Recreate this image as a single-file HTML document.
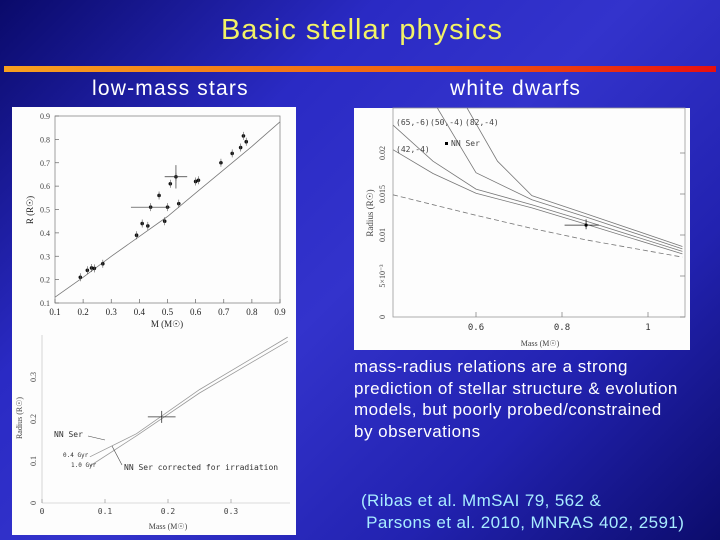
<!DOCTYPE html>
<html><head><meta charset="utf-8"><style>
html,body{margin:0;padding:0}
body{width:720px;height:540px;overflow:hidden;position:relative;font-family:"Liberation Sans","DejaVu Sans",sans-serif;
background:linear-gradient(135deg,#0a0a6a 0%,#2a2ac4 30%,#3333cc 50%,#2222b0 75%,#0c0c6c 100%)}
.t{position:absolute;white-space:nowrap}
</style></head><body>
<div class="t" style="left:0;width:724px;text-align:center;top:14px;font-size:29px;letter-spacing:1px;color:#f2f266">Basic stellar physics</div>
<div style="position:absolute;left:4px;top:66px;width:712px;height:6px;background:linear-gradient(90deg,#f8a020,#f06010 60%,#e81010)"></div>
<div class="t" style="left:92px;top:77px;font-size:21px;letter-spacing:1.2px;color:#fff">low-mass stars</div>
<div class="t" style="left:450px;top:77px;font-size:21px;letter-spacing:1.2px;color:#fff">white dwarfs</div>
<div class="t" style="left:354px;top:356px;font-size:17px;letter-spacing:0.5px;line-height:21.5px;color:#fff">mass-radius relations are a strong<br>prediction of stellar structure &amp; evolution<br>models, but poorly probed/constrained<br>by observations</div>
<div class="t" style="left:361px;top:490px;font-size:17px;letter-spacing:0.4px;line-height:21.5px;color:#a8ecff">(Ribas et al. MmSAI 79, 562 &amp;<br>&nbsp;Parsons et al. 2010, MNRAS 402, 2591)</div>
<svg id="s" width="720" height="540" style="position:absolute;left:0;top:0" font-family="Liberation Serif, serif"></svg>
<script>
// Low-mass stars
const lmM=[0.19,0.215,0.23,0.24,0.27,0.39,0.41,0.43,0.44,0.47,0.49,0.5,0.51,0.53,0.54,0.6,0.61,0.69,0.73,0.76,0.77,0.78];
const lmR=[0.21,0.24,0.25,0.248,0.268,0.39,0.44,0.43,0.51,0.56,0.45,0.51,0.61,0.64,0.525,0.62,0.625,0.70,0.74,0.765,0.815,0.79];
const lmModelM=[0.1,0.2,0.3,0.4,0.5,0.6,0.7,0.8,0.9];
const lmModelR=[0.125,0.21,0.3,0.385,0.47,0.57,0.67,0.77,0.875];
const lmTicks=[0.1,0.2,0.3,0.4,0.5,0.6,0.7,0.8,0.9];
// White dwarfs
const wdM=[0.407,0.5,0.6,0.73,0.856,1.08];
const wdDashed=[0.0149,0.0137,0.0124,0.0108,0.0094,0.0073];
const wdC42=[0.0204,0.0175,0.0151,0.0133,0.0113,0.0077];
const wdC65=[0.0234,0.0190,0.0156,0.0137,0.0117,0.0080];
const wdC50M=[0.51,0.6,0.73,0.856,1.08];const wdC50=[0.0255,0.0176,0.0143,0.0122,0.0083];
const wdC82M=[0.579,0.65,0.73,0.856,1.08];const wdC82=[0.0255,0.0190,0.0148,0.0126,0.0086];
const wdObs=[0.856,0.0112];
const wdXTicks=[0.6,0.8,1];const wdYTicks=[0,0.005,0.01,0.015,0.02];
const wdYLabels=["0","5×10⁻³","0.01","0.015","0.02"];
// NN Ser M dwarf
const mdM=[0.076,0.15,0.25,0.39];const md04=[0.11,0.165,0.27,0.395];const md1=[0.088,0.16,0.262,0.385];
const mdObs=[0.19,0.205];const mdTicksX=[0,0.1,0.2,0.3];const mdTicksY=[0,0.1,0.2,0.3];

const s=document.getElementById('s');const NS='http://www.w3.org/2000/svg';
function el(t,a,txt){const e=document.createElementNS(NS,t);for(const k in a)e.setAttribute(k,a[k]);if(txt!==undefined)e.textContent=txt;s.appendChild(e);return e;}
function lin(d0,d1,p0,p1){return v=>p0+(v-d0)/(d1-d0)*(p1-p0);}
function poly(xs,ys,fx,fy){return xs.map((v,i)=>fx(v).toFixed(1)+','+fy(ys[i]).toFixed(1)).join(' ');}

let p=el('rect',{x:12,y:107,width:284,height:428,fill:'#fdfdfd'});


p=el('rect',{x:354,y:108,width:336,height:242,fill:'#fdfdfd'});



// chart 1
let x1=lin(0.1,0.9,55,280),y1=lin(0.1,0.9,303,116);
el('rect',{x:55,y:116,width:225,height:187,fill:'none',stroke:'#888','stroke-width':0.8});
lmTicks.forEach(t=>{
 let a=el('text',{x:x1(t),y:315,'font-size':9,'text-anchor':'middle',fill:'#222'},String(t));
 
 
 a=el('text',{x:50,y:y1(t)+3,'font-size':8,'text-anchor':'end',fill:'#444'},String(t));
 
 
 el('line',{x1:x1(t),x2:x1(t),y1:303,y2:299,stroke:'#666','stroke-width':0.7});
 el('line',{x1:55,x2:59,y1:y1(t),y2:y1(t),stroke:'#666','stroke-width':0.7});
});
let t1=el('text',{x:167,y:327,'font-size':9,'text-anchor':'middle',fill:'#222'},'M (M☉)');


t1=el('text',{x:0,y:0,'font-size':9,'text-anchor':'middle',fill:'#222',transform:'translate(33,210) rotate(-90)'},'R (R☉)');


t1=el('polyline',{points:poly(lmModelM,lmModelR,x1,y1),fill:'none',stroke:'#777','stroke-width':0.8});


lmM.forEach((m,i)=>{
 const c=el('circle',{cx:x1(m),cy:y1(lmR[i]),r:1.8,fill:'#111'});
 
 
 el('line',{x1:x1(m),x2:x1(m),y1:y1(lmR[i])-4,y2:y1(lmR[i])+4,stroke:'#555','stroke-width':0.6});
});
el('line',{x1:x1(0.37),x2:x1(0.51),y1:y1(0.51),y2:y1(0.51),stroke:'#333','stroke-width':0.7});
el('line',{x1:x1(0.49),x2:x1(0.57),y1:y1(0.64),y2:y1(0.64),stroke:'#333','stroke-width':0.7});
el('line',{x1:x1(0.53),x2:x1(0.53),y1:y1(0.69),y2:y1(0.59),stroke:'#333','stroke-width':0.7});

// chart 2
let x2=lin(0.6,1.0,476,648),y2=lin(0,0.02,317,153);
el('rect',{x:393,y:108,width:292,height:209,fill:'none',stroke:'#999','stroke-width':0.8});
wdXTicks.forEach(t=>{const a=el('text',{x:x2(t),y:330,'font-size':9,'text-anchor':'middle',fill:'#333','font-family':'DejaVu Sans Mono, monospace'},String(t));
 
 
 el('line',{x1:x2(t),x2:x2(t),y1:317,y2:312,stroke:'#777','stroke-width':0.7});});
wdYTicks.forEach((t,i)=>{const a=el('text',{x:0,y:0,'font-size':8,'text-anchor':'middle',fill:'#444',transform:`translate(385,${y2(t)}) rotate(-90)`},wdYLabels[i]);
 
 
 el('line',{x1:680,x2:685,y1:y2(t),y2:y2(t),stroke:'#777','stroke-width':0.7});});
t1=el('text',{x:540,y:346,'font-size':8,'text-anchor':'middle',fill:'#444'},'Mass (M☉)');


t1=el('text',{x:0,y:0,'font-size':9,'text-anchor':'middle',fill:'#444',transform:'translate(373,213) rotate(-90)'},'Radius (R☉)');


s.appendChild(Object.assign(document.createElementNS(NS,'clipPath'),{id:'c2'}));
document.getElementById('c2').innerHTML='<rect x="393" y="108" width="292" height="209"/>';
[[wdM,wdC42],[wdM,wdC65],[wdC50M,wdC50],[wdC82M,wdC82]].forEach(([xs,ys])=>{
 const l=el('polyline',{points:poly(xs,ys,x2,y2),fill:'none',stroke:'#777','stroke-width':0.8,'clip-path':'url(#c2)'});
 
 
});
t1=el('polyline',{points:poly(wdM,wdDashed,x2,y2),fill:'none',stroke:'#777','stroke-width':0.8,'stroke-dasharray':'5,3'});


el('line',{x1:x2(wdObs[0]-0.05),x2:x2(wdObs[0]+0.03),y1:y2(wdObs[1]),y2:y2(wdObs[1]),stroke:'#222','stroke-width':0.8});
el('line',{x1:x2(wdObs[0]),x2:x2(wdObs[0]),y1:y2(wdObs[1]+0.0007),y2:y2(wdObs[1]-0.0005),stroke:'#222','stroke-width':0.8});
t1=el('circle',{cx:x2(wdObs[0]),cy:y2(wdObs[1]),r:1.6,fill:'#000'});


el('rect',{x:445,y:142,width:3,height:3,fill:'#000'});
[['(65,-6)',396,125],['(50,-4)',430,125],['(82,-4)',465,125],['(42,-4)',396,152],['NN Ser',451,146]].forEach(([t,x,y])=>{const a=el('text',{x,y,'font-size':8,fill:'#444','font-family':'DejaVu Sans Mono, monospace'},t);
 
 });

// chart 3
let x3=lin(0,0.1,42,105),y3=lin(0,0.1,503,461);
el('line',{x1:42,x2:290,y1:503,y2:503,stroke:'#bbb','stroke-width':0.6});
el('line',{x1:42,x2:42,y1:335,y2:503,stroke:'#bbb','stroke-width':0.6});
mdTicksX.forEach(t=>{const a=el('text',{x:x3(t),y:514,'font-size':8,'text-anchor':'middle',fill:'#444','font-family':'DejaVu Sans Mono, monospace'},String(t));
 
 
 el('line',{x1:x3(t),x2:x3(t),y1:503,y2:499,stroke:'#888','stroke-width':0.6});});
mdTicksY.forEach(t=>{const a=el('text',{x:0,y:0,'font-size':8,'text-anchor':'middle',fill:'#444',transform:`translate(36,${y3(t)}) rotate(-90)`},String(t));
 
 });
t1=el('text',{x:168,y:529,'font-size':8,'text-anchor':'middle',fill:'#444'},'Mass (M☉)');


t1=el('text',{x:0,y:0,'font-size':8,'text-anchor':'middle',fill:'#444',transform:'translate(22,418) rotate(-90)'},'Radius (R☉)');


[md04,md1].forEach(ys=>{const l=el('polyline',{points:poly(mdM,ys,x3,y3),fill:'none',stroke:'#999','stroke-width':0.8});
 
 });
el('line',{x1:x3(mdObs[0]-0.022),x2:x3(mdObs[0]+0.022),y1:y3(mdObs[1]),y2:y3(mdObs[1]),stroke:'#333','stroke-width':0.8});
el('line',{x1:x3(mdObs[0]),x2:x3(mdObs[0]),y1:y3(mdObs[1])-6,y2:y3(mdObs[1])+6,stroke:'#333','stroke-width':0.8});
el('line',{x1:88,x2:105,y1:436,y2:440,stroke:'#444','stroke-width':0.6});
el('line',{x1:122,x2:112,y1:465,y2:446,stroke:'#444','stroke-width':0.6});
[['NN Ser',54,437,8],['0.4 Gyr',63,457,6],['1.0 Gyr',71,467,6],['NN Ser corrected for irradiation',124,470,8]].forEach(([t,x,y,f])=>{const a=el('text',{x,y,'font-size':f,fill:'#333','font-family':'DejaVu Sans Mono, monospace'},t);
 
 });
</script>
</body></html>
